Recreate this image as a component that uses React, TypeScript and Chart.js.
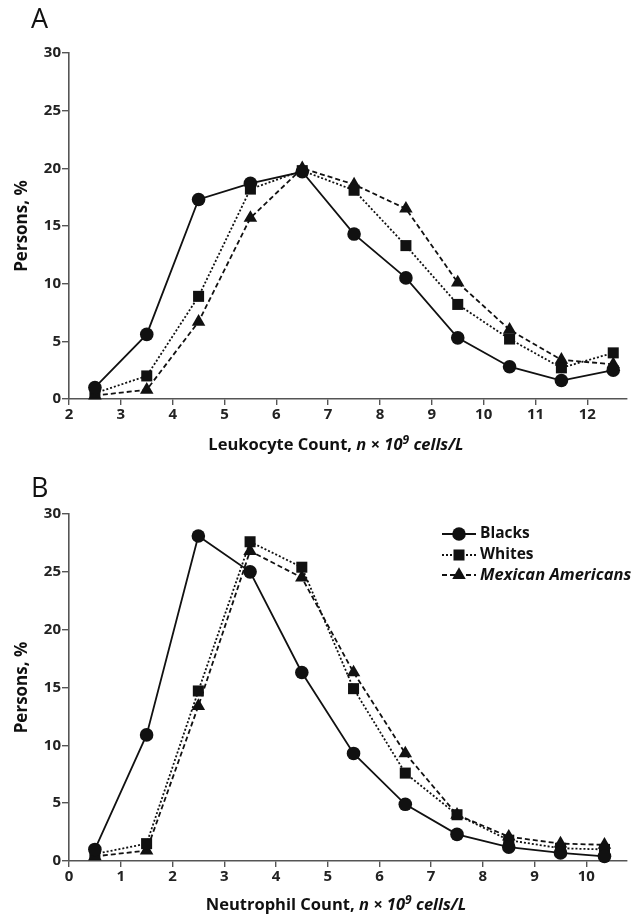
import React, { useEffect, useRef } from "react";
import { Chart, registerables } from "chart.js";

Chart.register(...registerables);

const SERIES_NAMES = ["Blacks", "Whites", "Mexican Americans"];

// Panel A: leukocyte count
const leukoX = [2.5, 3.5, 4.5, 5.5, 6.5, 7.5, 8.5, 9.5, 10.5, 11.5, 12.5];
const leukoBlacks = [1.0, 5.6, 17.3, 18.7, 19.7, 14.3, 10.5, 5.3, 2.8, 1.6, 2.5];
const leukoWhites = [0.5, 2.0, 8.9, 18.2, 19.8, 18.1, 13.3, 8.2, 5.2, 2.7, 4.0];
const leukoMexican = [0.3, 0.8, 6.7, 15.7, 20.0, 18.6, 16.5, 10.1, 6.0, 3.4, 3.0];

// Panel B: neutrophil count
const neutroX = [0.5, 1.5, 2.5, 3.5, 4.5, 5.5, 6.5, 7.5, 8.5, 9.5, 10.35];
const neutroBlacks = [1.0, 10.9, 28.1, 25.0, 16.3, 9.3, 4.9, 2.3, 1.2, 0.7, 0.4];
const neutroWhites = [0.6, 1.5, 14.7, 27.6, 25.4, 14.9, 7.6, 4.0, 1.8, 1.1, 1.0];
const neutroMexican = [0.4, 0.9, 13.4, 26.8, 24.5, 16.3, 9.3, 4.0, 2.1, 1.5, 1.4];

const yTicks = [0, 5, 10, 15, 20, 25, 30];

const FONT = "'Open Sans', 'DejaVu Sans', sans-serif";
const STYLES = [
  { pointStyle: "circle", radius: 6.8, dash: [] as number[] },
  { pointStyle: "rect", radius: 7.8, dash: [2, 2] },
  { pointStyle: "triangle", radius: 7.8, dash: [5, 3] },
];

function makeDatasets(xs: number[], ys: number[][]) {
  return ys.map((vals, i) => ({
    label: SERIES_NAMES[i],
    data: xs.map((x, j) => ({ x, y: vals[j] })),
    borderColor: "#111",
    backgroundColor: "#111",
    borderWidth: 1.8,
    borderDash: STYLES[i].dash,
    pointStyle: STYLES[i].pointStyle,
    pointRadius: STYLES[i].radius,
    pointBorderWidth: 0,
    pointBackgroundColor: "#111",
    tension: 0,
    clip: false as any,
  }));
}

function drawXTitle(ctx: CanvasRenderingContext2D, prefix: string, cx: number, cy: number) {
  const segs: { t: string; f: string; dy: number }[] = [
    { t: prefix, f: `bold 16.5px ${FONT}`, dy: 0 },
    { t: "n × 10", f: `italic bold 16.5px ${FONT}`, dy: 0 },
    { t: "9", f: `italic bold 12px ${FONT}`, dy: -4 },
    { t: " cells/L", f: `italic bold 16.5px ${FONT}`, dy: 0 },
  ];
  let total = 0;
  for (const s of segs) {
    ctx.font = s.f;
    total += ctx.measureText(s.t).width;
  }
  let x = cx - total / 2;
  ctx.textBaseline = "middle";
  ctx.textAlign = "left";
  ctx.fillStyle = "#111";
  for (const s of segs) {
    ctx.font = s.f;
    ctx.fillText(s.t, x, cy + s.dy);
    x += ctx.measureText(s.t).width;
  }
}

function drawMarker(ctx: CanvasRenderingContext2D, style: string, x: number, y: number, r: number) {
  ctx.beginPath();
  if (style === "circle") {
    ctx.arc(x, y, r, 0, Math.PI * 2);
  } else if (style === "rect") {
    const s = r * Math.SQRT1_2;
    ctx.rect(x - s, y - s, 2 * s, 2 * s);
  } else {
    const h = r;
    ctx.moveTo(x, y - h);
    ctx.lineTo(x + h * 0.866, y + h * 0.5);
    ctx.lineTo(x - h * 0.866, y + h * 0.5);
    ctx.closePath();
  }
  ctx.fill();
}

function makeDecor(letter: string, letterY: number, xPrefix: string, titleY: number, legend: boolean) {
  return {
    id: "decor" + letter,
    afterDraw(chart: any) {
      const ctx: CanvasRenderingContext2D = chart.ctx;
      const area = chart.chartArea;
      ctx.save();
      ctx.fillStyle = "#111";
      // panel letter
      ctx.font = `27px ${FONT}`;
      ctx.textAlign = "left";
      ctx.textBaseline = "alphabetic";
      ctx.fillText(letter, 31, letterY);
      // y title
      ctx.save();
      ctx.translate(22, (area.top + area.bottom) / 2);
      ctx.rotate(-Math.PI / 2);
      ctx.font = `bold 17px ${FONT}`;
      ctx.textAlign = "center";
      ctx.textBaseline = "middle";
      ctx.fillText("Persons, %", 0, 0);
      ctx.restore();
      // x title
      drawXTitle(ctx, xPrefix, 336, titleY);
      // legend
      if (legend) {
        const rows = [75, 96, 116];
        for (let i = 0; i < 3; i++) {
          const y = rows[i];
          ctx.strokeStyle = "#111";
          ctx.lineWidth = 1.8;
          ctx.setLineDash(STYLES[i].dash);
          ctx.beginPath();
          ctx.moveTo(442, y);
          ctx.lineTo(476, y);
          ctx.stroke();
          ctx.setLineDash([]);
          drawMarker(ctx, STYLES[i].pointStyle, 459, y, STYLES[i].radius);
          ctx.font = i === 2 ? `italic bold 16.5px ${FONT}` : `bold 15.5px ${FONT}`;
          ctx.textAlign = "left";
          ctx.textBaseline = "middle";
          ctx.fillText(SERIES_NAMES[i], 480, y);
        }
      }
      ctx.restore();
    },
  };
}

function buildConfig(
  xs: number[],
  ys: number[][],
  xMin: number,
  xMax: number,
  top: number,
  xAxisH: number,
  plugin: any
): any {
  return {
    type: "line",
    data: { datasets: makeDatasets(xs, ys) },
    options: {
      animation: false,
      responsive: false,
      maintainAspectRatio: false,
      layout: { padding: { left: 0, right: 3, top, bottom: 0 } },
      plugins: { legend: { display: false }, tooltip: { enabled: false }, title: { display: false } },
      scales: {
        x: {
          type: "linear",
          min: xMin,
          max: xMax,
          afterFit: (s: any) => {
            s.height = xAxisH;
          },
          border: { display: true, color: "#555", width: 1.6 },
          grid: { display: true, drawOnChartArea: false, drawTicks: true, tickLength: 6, color: "#555", lineWidth: 1.4 },
          ticks: {
            stepSize: 1,
            includeBounds: false,
            padding: 1,
            color: "#222",
            font: { family: FONT, size: 15, weight: "bold" },
            maxRotation: 0,
            autoSkip: false,
          },
        },
        y: {
          type: "linear",
          min: yTicks[0],
          max: yTicks[yTicks.length - 1],
          afterFit: (s: any) => {
            s.width = 69;
          },
          afterBuildTicks: (s: any) => {
            s.ticks = yTicks.map((v) => ({ value: v }));
          },
          border: { display: true, color: "#555", width: 1.6 },
          grid: { display: true, drawOnChartArea: false, drawTicks: true, tickLength: 7, color: "#555", lineWidth: 1.4 },
          ticks: {
            padding: 1,
            color: "#222",
            font: { family: FONT, size: 15, weight: "bold" },
          },
        },
      },
    },
    plugins: [plugin],
  };
}

export default function App() {
  const refA = useRef<HTMLCanvasElement>(null);
  const refB = useRef<HTMLCanvasElement>(null);

  useEffect(() => {
    document.body.style.margin = "0";
    const a = new Chart(
      refA.current as HTMLCanvasElement,
      buildConfig(
        leukoX,
        [leukoBlacks, leukoWhites, leukoMexican],
        2,
        12.75,
        53,
        60,
        makeDecor("A", 28, "Leukocyte Count, ", 445, false)
      )
    );
    const b = new Chart(
      refB.current as HTMLCanvasElement,
      buildConfig(
        neutroX,
        [neutroBlacks, neutroWhites, neutroMexican],
        0,
        10.77,
        55,
        57,
        makeDecor("B", 38, "Neutrophil Count, ", 446, true)
      )
    );
    return () => {
      a.destroy();
      b.destroy();
    };
  }, []);

  return (
    <div style={{ width: 634, height: 918, background: "#fff", position: "relative" }}>
      <canvas ref={refA} width={634} height={459} style={{ display: "block", width: 634, height: 459 }} />
      <canvas ref={refB} width={634} height={459} style={{ display: "block", width: 634, height: 459 }} />
    </div>
  );
}
